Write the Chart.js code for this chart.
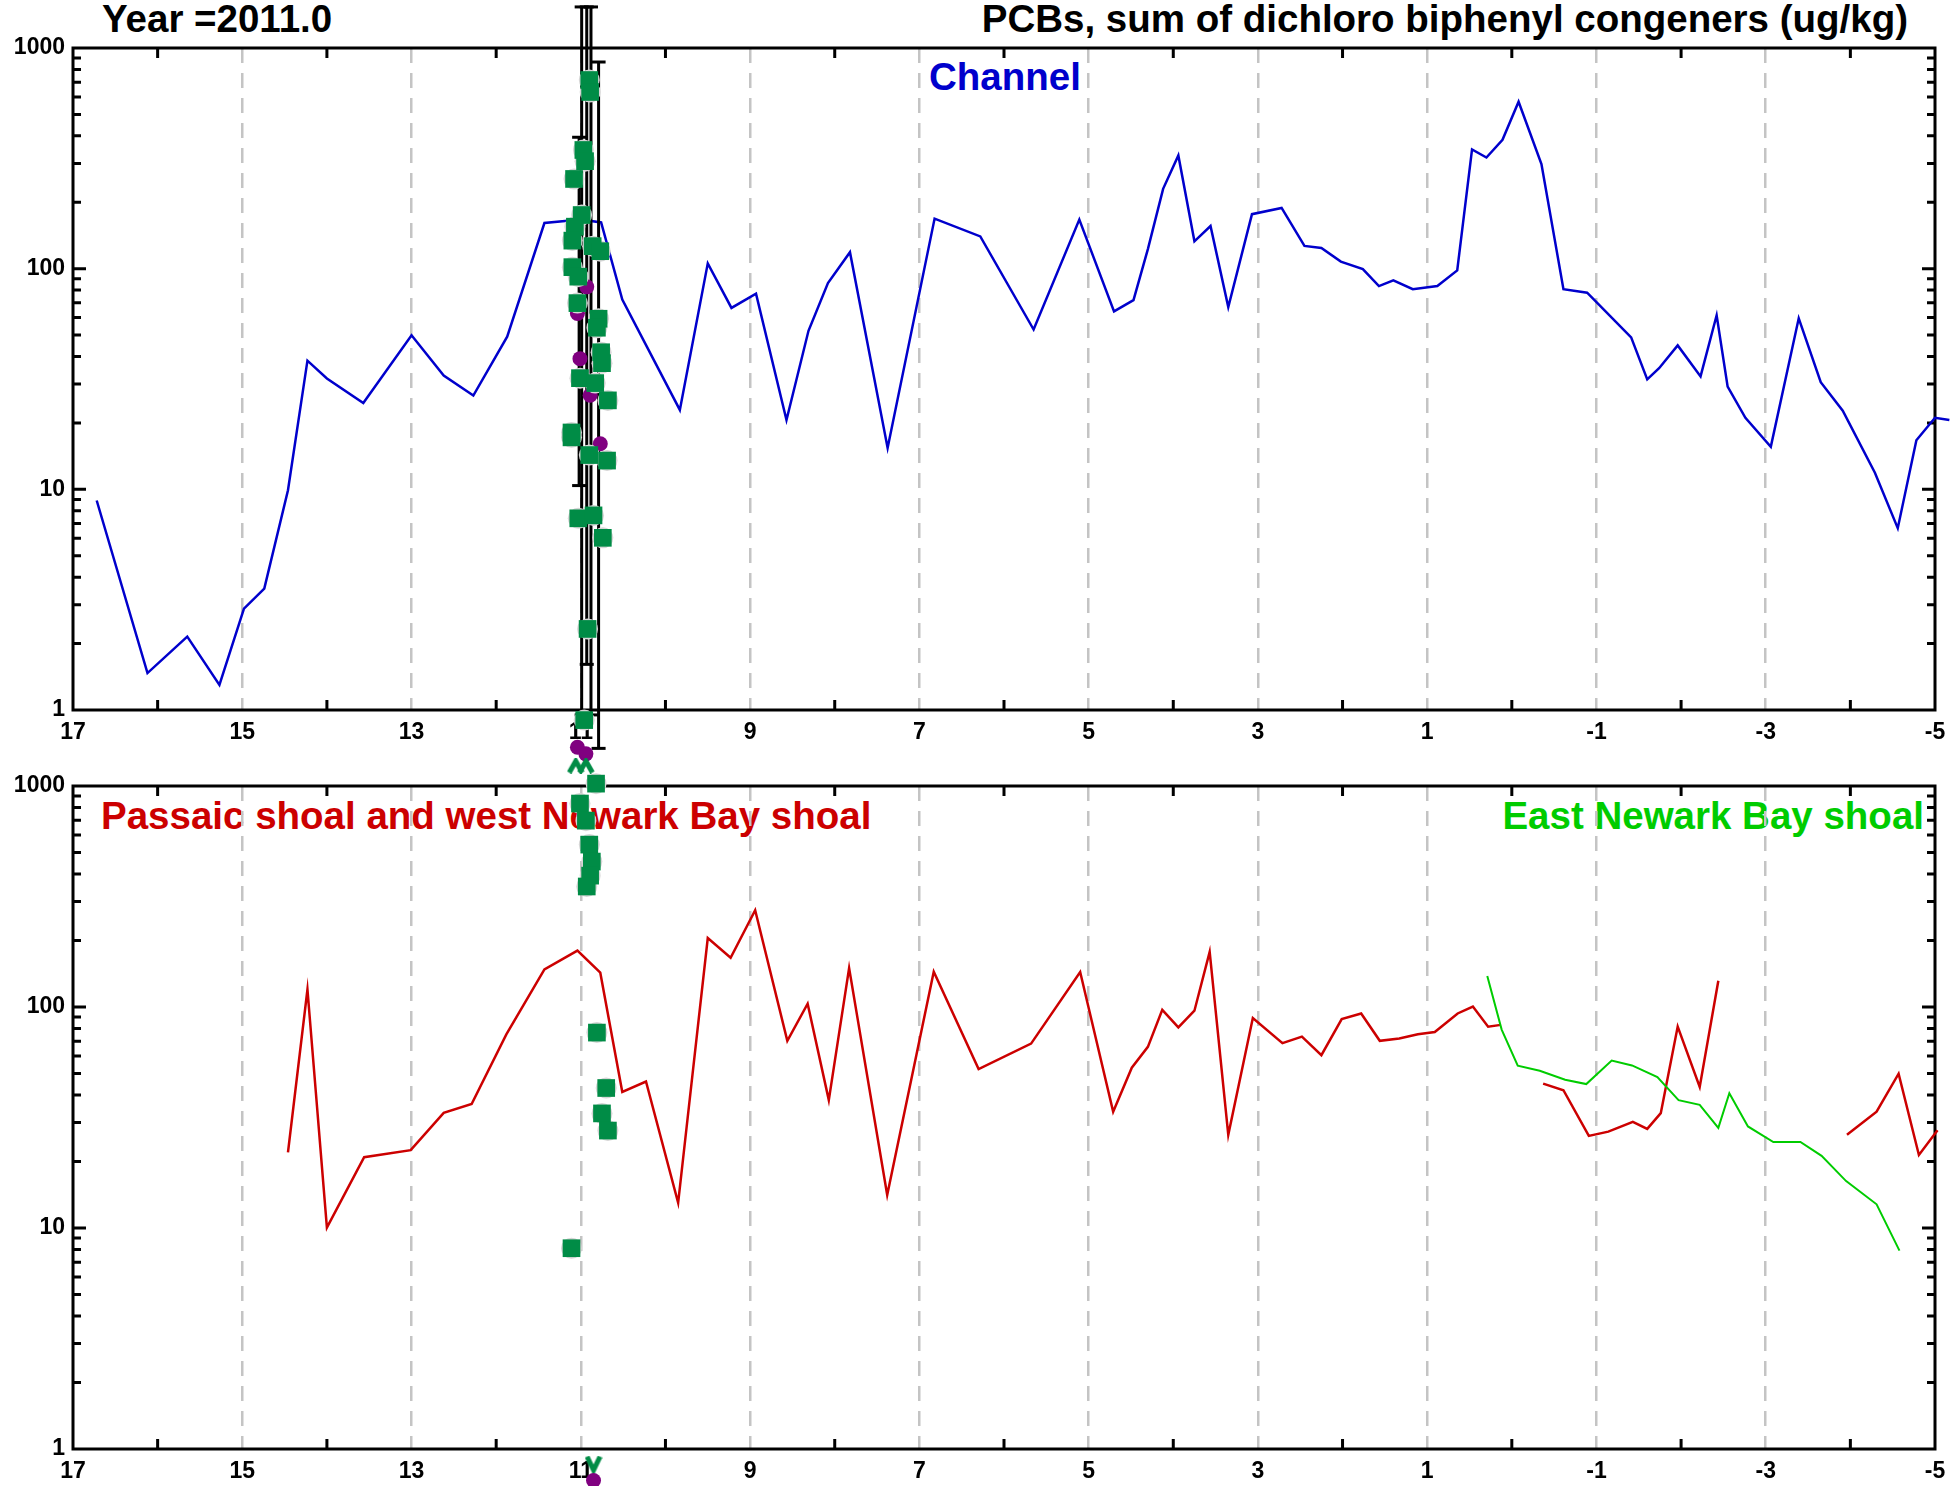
<!DOCTYPE html>
<html><head><meta charset="utf-8">
<script src="https://cdn.jsdelivr.net/npm/chart.js@4.4.1/dist/chart.umd.min.js"></script>
<style>
html,body{margin:0;padding:0;background:#fff;width:1955px;height:1486px;overflow:hidden;}
canvas{position:absolute;left:0;top:0;}
.lbl{position:absolute;font-family:"Liberation Sans",Arial,sans-serif;font-weight:bold;font-size:38.5px;line-height:38px;white-space:nowrap;}
</style></head><body>
<div class="lbl" style="left:102px;top:0px;color:#000">Year =2011.0</div>
<div class="lbl" style="right:47px;top:0px;color:#000">PCBs, sum of dichloro biphenyl congeners (ug/kg)</div>
<div class="lbl" style="left:929px;top:58px;color:#0000CC">Channel</div>
<div class="lbl" style="left:101px;top:797px;color:#CC0000">Passaic shoal and west Newark Bay shoal</div>
<div class="lbl" style="right:31px;top:797px;color:#00CC00">East Newark Bay shoal</div>
<canvas id="top" width="1955" height="1486"></canvas>
<canvas id="bot" width="1955" height="1486"></canvas>
<script>
// ---------- axis ticks ----------
const xMin = -5, xMax = 17;
const yMajorTicks = [1, 10, 100, 1000];
const yMinorFactors = [2, 3, 4, 5, 6, 7, 8, 9];

// ---------- top panel: Channel ----------
const channelX = [16.72, 16.12, 15.65, 15.27, 14.98, 14.74, 14.46, 14.23, 14.0, 13.57, 13.0, 12.62, 12.27, 11.87, 11.43, 11.0, 10.76, 10.51, 9.83, 9.5, 9.22, 8.93, 8.57, 8.31, 8.08, 7.82, 7.375, 6.82, 6.28, 5.65, 5.11, 4.70, 4.47, 4.30, 4.12, 3.94, 3.75, 3.56, 3.35, 3.07, 2.72, 2.45, 2.25, 2.02, 1.76, 1.57, 1.40, 1.17, 0.88, 0.645, 0.47, 0.30, 0.11, -0.08, -0.35, -0.61, -0.89, -1.41, -1.60, -1.74, -1.96, -2.23, -2.42, -2.55, -2.76, -3.06, -3.39, -3.65, -3.91, -4.29, -4.56, -4.78, -5.0, -5.17];
const channelY = [8.9, 1.47, 2.15, 1.30, 2.88, 3.55, 9.9, 38.3, 31.8, 24.6, 49.9, 32.8, 26.6, 49.2, 161, 167, 162, 72.5, 22.9, 105.7, 66.4, 77, 20.6, 52.3, 86, 118.8, 15.4, 168.6, 140, 53, 167, 64, 72, 122.7, 230, 326, 133, 156, 67, 176.6, 188.4, 126.8, 124, 107.6, 99.5, 83.4, 88.6, 80.7, 83.4, 98.2, 347, 319, 384, 571, 297.6, 80.7, 77.8, 48.8, 31.5, 35.4, 44.9, 32.5, 61.5, 29.2, 21.1, 15.6, 59.6, 30.6, 22.7, 11.9, 6.67, 16.7, 21.1, 20.6];

// core samples (top panel)
const sqTopX = [10.90, 10.89, 10.97, 10.95, 11.08, 10.99, 11.07, 11.10, 10.86, 10.77, 11.10, 11.03, 11.04, 10.79, 10.81, 10.76, 10.75, 11.01, 10.83, 10.68, 11.11, 11.11, 10.90, 10.69, 11.03, 10.85, 10.74, 10.92, 10.96];
const sqTopY = [716, 632, 345, 307, 255, 175, 155, 134, 126.5, 120, 101.6, 92, 69.8, 59.3, 54, 41.8, 37.3, 31.9, 30.3, 25.3, 18.1, 17.2, 14.3, 13.5, 7.39, 7.62, 6.03, 2.33, 0.90];
const circTopX = [10.93, 11.04, 11.01, 10.89, 10.77, 11.04, 10.94];
const circTopY = [82.7, 62.6, 39.1, 26.7, 16.1, 0.678, 0.633];
const ebX = [11.02, 10.99, 10.93, 10.88, 10.79];
const ebLow = [10.4, 0.95, 1.61, 0.95, 0.67];
const ebHigh = [394, 1535, 1535, 1535, 864];

// ---------- bottom panel ----------
const passaicX = [14.46, 14.23, 14.0, 13.56, 13.01, 12.62, 12.29, 11.88, 11.43, 11.04, 10.77, 10.51, 10.23, 9.85, 9.50, 9.23, 8.94, 8.56, 8.32, 8.07, 7.83, 7.38, 6.83, 6.30, 5.68, 5.10, 4.71, 4.49, 4.30, 4.13, 3.94, 3.75, 3.57, 3.35, 3.06, 2.71, 2.48, 2.25, 2.01, 1.78, 1.56, 1.33, 1.11, 0.91, 0.64, 0.46, 0.28, 0.13, 0.0, -0.37, -0.61, -0.91, -1.14, -1.43, -1.60, -1.76, -1.96, -2.22, -2.44, -3.2, -3.96, -4.31, -4.57, -4.81, -5.03];
const passaicY = [22.0, 120, 10.05, 20.9, 22.5, 33.2, 36.4, 75.2, 148, 180, 143, 41.3, 46, 13.0, 205, 167, 274, 70.3, 103.5, 37.9, 150, 14.1, 144.3, 52.4, 68.3, 144, 33.6, 53.1, 66, 97.1, 80.9, 96.2, 177.7, 26.4, 89.1, 68.6, 73.4, 60.5, 88.2, 93.5, 70.3, 72, 75.2, 77, 93.5, 100.5, 81.5, 83, null, 45, 42, 26.1, 27.3, 30.2, 28.1, 33.1, 81.5, 43.5, 131.5, null, 26.4, 33.6, 49.9, 21.4, 27.7];
const eastX = [0.29, 0.12, -0.07, -0.33, -0.63, -0.88, -1.18, -1.42, -1.72, -1.97, -2.22, -2.44, -2.57, -2.79, -3.09, -3.41, -3.66, -3.95, -4.31, -4.58];
const eastY = [138, 79, 54.3, 51.5, 46.9, 44.8, 57.2, 54.4, 48.2, 37.9, 36.1, 28.4, 40.7, 28.8, 24.5, 24.5, 21.2, 16.3, 12.8, 7.9];
const sqBotX = [10.82, 11.01, 10.94, 10.90, 10.87, 10.89, 10.93, 10.81, 10.70, 10.75, 10.68, 11.11];
const sqBotY = [1025, 833, 697, 543, 455, 393, 351, 76.6, 43, 33, 27.6, 8.1];
const chevUpX = [11.06, 10.94];
const chevUpY = [1237, 1237];
const chevDownX = [10.85];
const chevDownY = [0.85];
const circBotX = [10.85];
const circBotY = [0.72];

// ---------- helpers ----------
const pts = (xs, ys) => xs.map((x, i) => ({x: x, y: ys[i]}));
const FONT = '"Liberation Sans", Arial, sans-serif';
Chart.defaults.font.family = FONT;
Chart.defaults.font.weight = 'bold';
Chart.defaults.font.size = 23;
Chart.defaults.color = '#000';

const yTickValues = [];
yMajorTicks.forEach((m, i) => {
  yTickValues.push(m);
  if (i < yMajorTicks.length - 1) yMinorFactors.forEach(f => yTickValues.push(m * f));
});

function chevron(up, w, h, lw) {
  const c = document.createElement('canvas');
  c.width = w; c.height = h;
  const g = c.getContext('2d');
  g.strokeStyle = '#008C46'; g.lineWidth = lw; g.lineJoin = 'miter';
  g.beginPath();
  if (up) { g.moveTo(lw / 2, h - 1); g.lineTo(w / 2, lw / 2 + 1); g.lineTo(w - lw / 2, h - 1); }
  else { g.moveTo(lw / 2, 1); g.lineTo(w / 2, h - lw / 2 - 1); g.lineTo(w - lw / 2, 1); }
  g.stroke();
  return c;
}

const frameTicks = {
  id: 'frameTicks',
  beforeDatasetsDraw(chart) {
    const ctx = chart.ctx, a = chart.chartArea, xs = chart.scales.x, ys = chart.scales.y;
    ctx.save();
    ctx.strokeStyle = '#000'; ctx.lineWidth = 3; ctx.lineCap = 'butt';
    ctx.beginPath();
    xs.ticks.forEach(t => {
      const v = t.value;
      if (Math.abs(v % 2) === 0 && v > xs.min && v < xs.max) {
        const px = xs.getPixelForValue(v);
        ctx.moveTo(px, a.bottom); ctx.lineTo(px, a.bottom - 10);
        ctx.moveTo(px, a.top); ctx.lineTo(px, a.top + 10);
      }
    });
    ys.ticks.forEach(t => {
      const v = t.value;
      if (v <= ys.min || v >= ys.max) return;
      const lg = Math.log10(v);
      const major = Math.abs(lg - Math.round(lg)) < 1e-9;
      const len = major ? 13 : 8;
      const py = ys.getPixelForValue(v);
      ctx.moveTo(a.left, py); ctx.lineTo(a.left + len, py);
      ctx.moveTo(a.right, py); ctx.lineTo(a.right - len, py);
    });
    ctx.stroke();
    ctx.strokeRect(a.left, a.top, a.right - a.left, a.bottom - a.top);
    ctx.restore();
    // allow off-scale markers to be drawn (like the original)
    chart.$savedArea = chart.chartArea;
    chart.chartArea = {left: -100, top: -100, right: chart.width + 100, bottom: chart.height + 100,
                       width: chart.width + 200, height: chart.height + 200};
  },
  afterDatasetsDraw(chart) {
    if (chart.$savedArea) { chart.chartArea = chart.$savedArea; chart.$savedArea = null; }
  }
};

function makeOptions(padTop, padBottom, xHeight) {
  return {
    responsive: false,
    animation: false,
    events: [],
    layout: {padding: {left: 0, right: 20, top: padTop, bottom: padBottom}},
    plugins: {legend: {display: false}, tooltip: {enabled: false}},
    scales: {
      x: {
        type: 'linear', min: xMin, max: xMax, reverse: true,
        afterFit: s => { s.height = xHeight; },
        ticks: {stepSize: 1, autoSkip: false, maxRotation: 0, padding: 9,
                callback: v => (Math.abs(v % 2) === 1 ? String(v) : '')},
        grid: {drawTicks: false, lineWidth: 2.5,
               color: c => { const v = c.tick ? c.tick.value : 0;
                 return (Math.abs(v % 2) === 1 && v > xMin && v < xMax) ? '#c4c4c4' : 'rgba(0,0,0,0)'; }},
        border: {display: false, dash: [15, 10]}
      },
      y: {
        type: 'logarithmic', min: 1, max: 1000,
        afterBuildTicks: s => { s.ticks = yTickValues.map(v => ({value: v})); },
        afterFit: s => { s.width = 73; },
        ticks: {autoSkip: false, padding: 8,
                callback: v => (yMajorTicks.includes(v) ? String(v) : '')},
        grid: {display: false, drawTicks: false},
        border: {display: false}
      }
    }
  };
}

const squareDs = (xs, ys) => ({data: pts(xs, ys), pointStyle: 'rect', pointRadius: 12.5,
  pointBackgroundColor: '#008C46', pointBorderWidth: 0, clip: false, order: 1});
const haloDs = (xs, ys) => ({data: pts(xs, ys), pointStyle: 'circle', pointRadius: 10.5,
  pointBackgroundColor: '#d6d6d6', pointBorderWidth: 0, clip: false, order: 2});
const circDs = (xs, ys) => ({data: pts(xs, ys), pointStyle: 'circle', pointRadius: 7.5,
  pointBackgroundColor: '#800080', pointBorderWidth: 0, clip: false, order: 3});

// ---------- top chart ----------
const topSets = [
  {data: pts(channelX, channelY), showLine: true, borderColor: '#0000CC', borderWidth: 2.5,
   pointRadius: 0, clip: false, order: 10}
];
ebX.forEach((x, i) => topSets.push({
  data: [{x: x, y: ebLow[i]}, {x: x, y: ebHigh[i]}], showLine: true,
  borderColor: '#000', borderWidth: 3, pointStyle: 'line', pointRadius: 7,
  pointBorderColor: '#000', pointBorderWidth: 3, clip: false, order: 8}));
topSets.push(circDs(circTopX, circTopY));
topSets.push(haloDs(sqTopX, sqTopY));
topSets.push(squareDs(sqTopX, sqTopY));

new Chart(document.getElementById('top'), {
  type: 'scatter',
  data: {datasets: topSets},
  options: makeOptions(48, 736, 40),
  plugins: [frameTicks]
});

// ---------- bottom chart ----------
const botSets = [
  {data: pts(passaicX, passaicY), showLine: true, spanGaps: false, borderColor: '#CC0000', borderWidth: 2.5,
   pointRadius: 0, clip: false, order: 10},
  {data: pts(eastX, eastY), showLine: true, borderColor: '#00CC00', borderWidth: 2,
   pointRadius: 0, clip: false, order: 9},
  circDs(circBotX, circBotY),
  {data: pts(chevUpX, chevUpY), pointStyle: chevron(true, 18, 16, 5), pointRadius: 9, clip: false, order: 4},
  {data: pts(chevDownX, chevDownY), pointStyle: chevron(false, 18, 18, 5), pointRadius: 9, clip: false, order: 4},
  haloDs(sqBotX, sqBotY),
  squareDs(sqBotX, sqBotY)
];

new Chart(document.getElementById('bot'), {
  type: 'scatter',
  data: {datasets: botSets},
  options: makeOptions(786, 0, 37),
  plugins: [frameTicks]
});
</script>
</body></html>
